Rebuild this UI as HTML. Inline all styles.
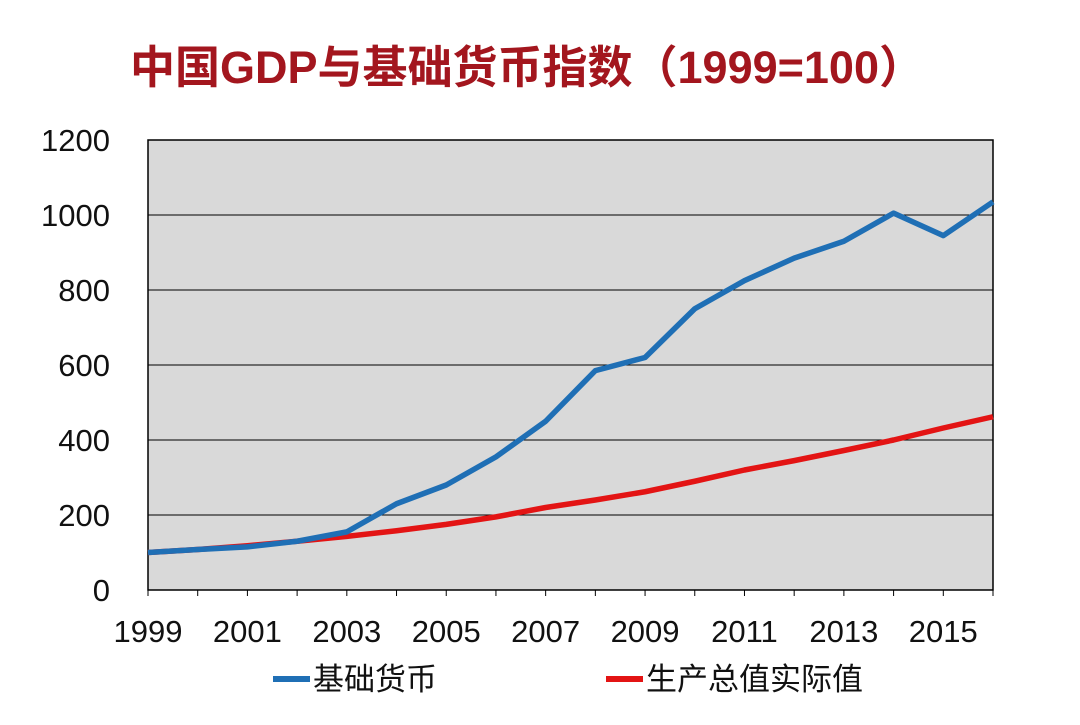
<!DOCTYPE html>
<html><head><meta charset="utf-8"><style>
body{margin:0;background:#fff;width:1080px;height:720px;overflow:hidden}
</style></head><body>
<svg id="s" width="1080" height="720" xmlns="http://www.w3.org/2000/svg" font-family="Liberation Sans, Noto Sans CJK SC, sans-serif">
<text x="527" y="83" text-anchor="middle" font-size="45" font-weight="bold" fill="#A3161E" font-family="Liberation Sans, Noto Sans CJK SC, sans-serif">中国GDP与基础货币指数（1999=100）</text>
<rect x="148" y="140" width="845" height="450" fill="#d9d9d9" stroke="#000" stroke-width="1.5"/>
<g id="g"></g>
</svg>
<script>
var s=document.getElementById('g'),h='';
function X(y){return 148+(y-1999)*845/17}
function Y(v){return 590-v*0.375}
for(var v=200;v<1200;v+=200)h+='<line x1="148" x2="993" y1="'+Y(v)+'" y2="'+Y(v)+'" stroke="#000" stroke-width="1"/>';
for(var v=0;v<=1200;v+=200)h+='<text x="110" y="'+(Y(v)+11)+'" text-anchor="end" font-size="31" fill="#111">'+v+'</text>';
for(var y=1999;y<=2016;y++)h+='<line x1="'+X(y)+'" x2="'+X(y)+'" y1="590" y2="596" stroke="#000"/>';
for(var y=1999;y<=2015;y+=2)h+='<text x="'+X(y)+'" y="642" text-anchor="middle" font-size="31" fill="#111">'+y+'</text>';
var b=[100,108,115,130,155,230,280,355,450,585,620,750,825,885,930,1005,945,1035];
var r=[100,108,118,130,143,158,175,195,220,240,262,290,320,345,372,400,432,462];
function P(a,c){return '<polyline fill="none" stroke="'+c+'" stroke-width="5.5" stroke-linejoin="round" points="'+a.map(function(v,i){return X(1999+i)+','+Y(v)}).join(' ')+'"/>'}
h+=P(r,'#e31414')+P(b,'#1f6fb5');
h+='<line x1="273" x2="310" y1="679" y2="679" stroke="#1f6fb5" stroke-width="6"/><text x="313" y="690" font-size="31" fill="#111">基础货币</text>';
h+='<line x1="606" x2="643" y1="679" y2="679" stroke="#e31414" stroke-width="6"/><text x="646" y="690" font-size="31" fill="#111">生产总值实际值</text>';
s.innerHTML=h;
</script>
</body></html>
